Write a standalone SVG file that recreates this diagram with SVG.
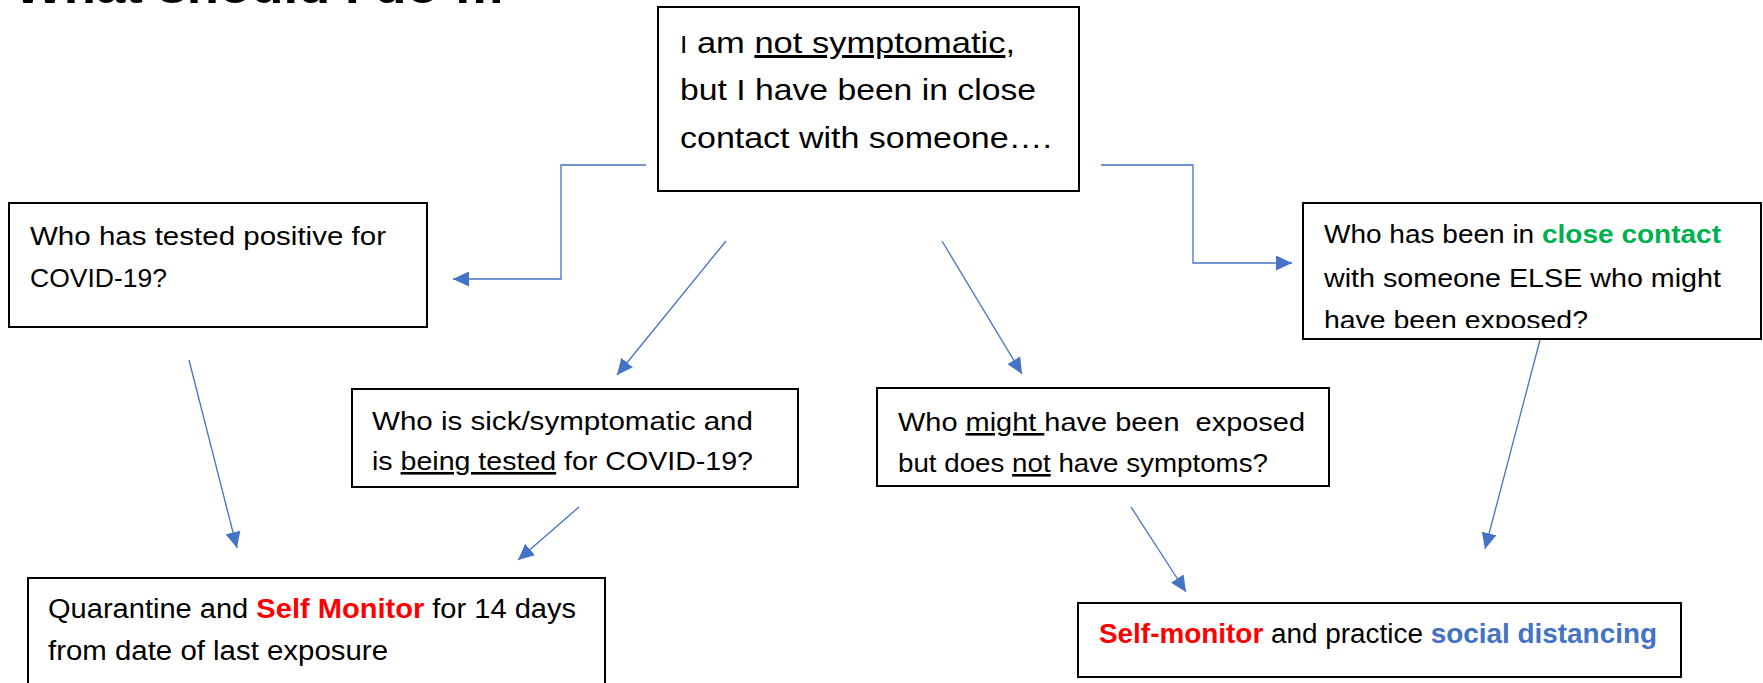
<svg xmlns="http://www.w3.org/2000/svg" width="1763" height="683" viewBox="0 0 1763 683">
<style>
.box{fill:#fff;stroke:#000;stroke-width:2}
.t{font-family:"Liberation Sans",Arial,sans-serif;fill:#000}
.c{fill:none;stroke:#4472C4;stroke-width:1.3}
.b{font-weight:bold}
.red{fill:#FF0000}
.grn{fill:#00B050}
.blu{fill:#4472C4}
.u{text-decoration:underline}
</style>
<defs>
<marker id="ah" markerUnits="userSpaceOnUse" markerWidth="16" markerHeight="15" refX="16" refY="7.5" orient="auto">
<path d="M0,0 L16,7.5 L0,15 z" fill="#4472C4"/>
</marker>
<clipPath id="clipR"><rect x="1303" y="203" width="458" height="125"/></clipPath>
</defs>
<rect width="1763" height="683" fill="#fff"/>
<text class="t b" x="14" y="3" font-size="48" fill="#333" textLength="492" lengthAdjust="spacingAndGlyphs">What should I do …</text>
<g id="connectors">
<polyline class="c" points="646,165 561,165 561,279 453,279" marker-end="url(#ah)"/>
<polyline class="c" points="1101,165 1193,165 1193,263 1292,263" marker-end="url(#ah)"/>
<line class="c" x1="726" y1="241" x2="617" y2="375" marker-end="url(#ah)"/>
<line class="c" x1="942" y1="241" x2="1022" y2="374" marker-end="url(#ah)"/>
<line class="c" x1="189" y1="360" x2="237" y2="548" marker-end="url(#ah)"/>
<line class="c" x1="579" y1="507" x2="518" y2="560" marker-end="url(#ah)"/>
<line class="c" x1="1131" y1="507" x2="1186" y2="592" marker-end="url(#ah)"/>
<line class="c" x1="1540" y1="340" x2="1485" y2="549" marker-end="url(#ah)"/>
</g>
<g id="top">
<rect class="box" x="658" y="7" width="421" height="184"/>
<text class="t" x="680" y="53" font-size="30" textLength="335" lengthAdjust="spacingAndGlyphs"><tspan font-size="23">I</tspan> am <tspan class="u">not symptomatic</tspan>,</text>
<text class="t" x="680" y="100" font-size="30" textLength="356" lengthAdjust="spacingAndGlyphs">but I have been in close</text>
<text class="t" x="680" y="148" font-size="30" textLength="372" lengthAdjust="spacingAndGlyphs">contact with someone….</text>
</g>
<g id="positive">
<rect class="box" x="9" y="203" width="418" height="124"/>
<text class="t" x="30" y="245" font-size="25.5" textLength="356" lengthAdjust="spacingAndGlyphs">Who has tested positive for</text>
<text class="t" x="30" y="287" font-size="25.5" textLength="137" lengthAdjust="spacingAndGlyphs">COVID-19?</text>
</g>
<g id="closecontact">
<rect class="box" x="1303" y="203" width="458" height="136"/>
<g clip-path="url(#clipR)">
<text class="t" x="1324" y="243" font-size="25.5" textLength="397" lengthAdjust="spacingAndGlyphs">Who has been in <tspan class="b grn">close contact</tspan></text>
<text class="t" x="1324" y="287" font-size="25.5" textLength="397" lengthAdjust="spacingAndGlyphs">with someone ELSE who might</text>
<text class="t" x="1324" y="329" font-size="25.5" textLength="264" lengthAdjust="spacingAndGlyphs">have been exposed?</text>
</g>
</g>
<g id="sick">
<rect class="box" x="352" y="389" width="446" height="98"/>
<text class="t" x="372" y="430" font-size="26" textLength="381" lengthAdjust="spacingAndGlyphs">Who is sick/symptomatic and</text>
<text class="t" x="372" y="470" font-size="26" textLength="381" lengthAdjust="spacingAndGlyphs">is <tspan class="u">being tested</tspan> for COVID-19?</text>
</g>
<g id="might">
<rect class="box" x="877" y="388" width="452" height="98"/>
<text class="t" x="898" y="431" font-size="26" textLength="407" lengthAdjust="spacingAndGlyphs" xml:space="preserve">Who <tspan class="u">might </tspan>have been  exposed</text>
<text class="t" x="898" y="472" font-size="26" textLength="370" lengthAdjust="spacingAndGlyphs">but does <tspan class="u">not</tspan> have symptoms?</text>
</g>
<g id="quarantine">
<rect class="box" x="28" y="578" width="577" height="110"/>
<text class="t" x="48" y="618" font-size="27" textLength="528" lengthAdjust="spacingAndGlyphs">Quarantine and <tspan class="b red">Self Monitor</tspan> for 14 days</text>
<text class="t" x="48" y="660" font-size="27" textLength="340" lengthAdjust="spacingAndGlyphs">from date of last exposure</text>
</g>
<g id="selfmonitor">
<rect class="box" x="1078" y="603" width="603" height="74"/>
<text class="t" x="1099" y="643" font-size="27" textLength="558" lengthAdjust="spacingAndGlyphs"><tspan class="b red">Self-monitor</tspan> and practice <tspan class="b blu">social distancing</tspan></text>
</g>
</svg>
